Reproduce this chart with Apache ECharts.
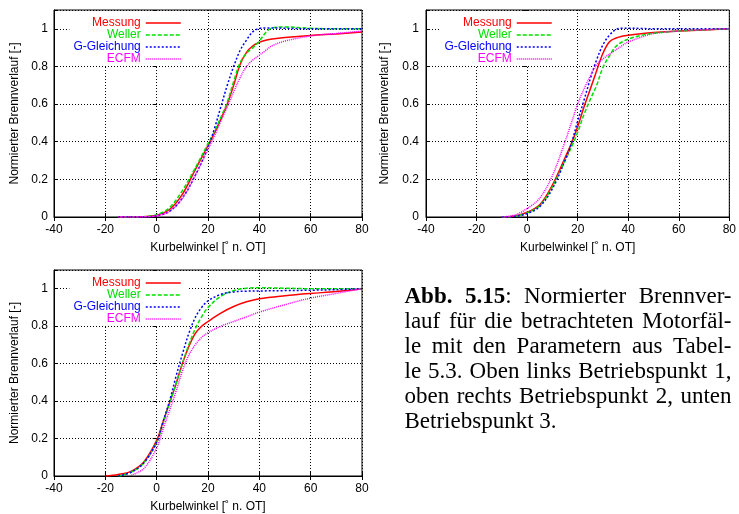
<!DOCTYPE html>
<html>
<head>
<meta charset="utf-8">
<script src="https://cdn.jsdelivr.net/npm/echarts@6/dist/echarts.min.js"></script>
<style>
  html, body { margin: 0; padding: 0; background: #fff; }
  #chart { width: 739px; height: 514px; }
</style>
</head>
<body>
<div id="chart"></div>
<script>
// Kurbelwinkel [° n. OT] sampling for each operating point
const angles1 = [-15, -10, -5, 0, 5, 10, 15, 20, 22.5, 25, 27.5, 30, 32.5, 35, 37.5, 40, 42.5, 45, 50, 60, 70, 80];
const angles2 = [-10, -5, 0, 5, 10, 15, 17.5, 20, 22.5, 25, 27.5, 30, 32.5, 35, 37.5, 40, 45, 50, 60, 70, 80];
const angles3 = [-20, -15, -10, -5, 0, 2.5, 5, 7.5, 10, 12.5, 15, 17.5, 20, 25, 30, 35, 40, 50, 60, 70, 80];

// Betriebspunkt 1
const messung1    = [0, 0, 0.002, 0.01, 0.04, 0.12, 0.25, 0.38, 0.445, 0.52, 0.6, 0.7, 0.81, 0.875, 0.91, 0.928, 0.939, 0.946, 0.954, 0.965, 0.973, 0.983];
const weller1     = [0, 0, 0.002, 0.012, 0.05, 0.14, 0.26, 0.39, 0.455, 0.53, 0.61, 0.72, 0.82, 0.87, 0.9, 0.935, 0.98, 1.005, 1.01, 1.003, 1.0, 1.0];
const gGleichung1 = [0, 0, 0.001, 0.006, 0.03, 0.1, 0.22, 0.37, 0.47, 0.585, 0.7, 0.8, 0.885, 0.94, 0.985, 1.002, 1.005, 1.005, 1.003, 1.0, 1.0, 1.0];
const ecfm1       = [0, 0, 0.001, 0.006, 0.03, 0.1, 0.22, 0.36, 0.43, 0.51, 0.585, 0.665, 0.74, 0.8, 0.835, 0.86, 0.885, 0.91, 0.935, 0.962, 0.975, 0.988];

// Betriebspunkt 2
const messung2    = [0, 0.005, 0.025, 0.065, 0.17, 0.315, 0.39, 0.48, 0.584, 0.68, 0.777, 0.87, 0.93, 0.95, 0.96, 0.966, 0.974, 0.98, 0.988, 0.994, 1.0];
const weller2     = [0, 0.004, 0.022, 0.06, 0.16, 0.3, 0.37, 0.45, 0.545, 0.625, 0.7, 0.795, 0.855, 0.905, 0.93, 0.945, 0.965, 0.977, 0.988, 0.995, 1.0];
const gGleichung2 = [0, 0.003, 0.018, 0.055, 0.15, 0.3, 0.39, 0.51, 0.62, 0.735, 0.835, 0.915, 0.965, 0.995, 1.003, 1.003, 1.002, 1.0, 1.0, 1.0, 1.0];
const ecfm2       = [0, 0.01, 0.045, 0.1, 0.22, 0.4, 0.5, 0.6, 0.68, 0.75, 0.81, 0.84, 0.865, 0.887, 0.91, 0.93, 0.955, 0.975, 0.988, 0.995, 1.0];

// Betriebspunkt 3
const messung3    = [0, 0.008, 0.025, 0.075, 0.19, 0.29, 0.39, 0.49, 0.6, 0.69, 0.76, 0.8, 0.825, 0.87, 0.905, 0.93, 0.947, 0.963, 0.975, 0.985, 1.0];
const weller3     = [null, 0, 0.02, 0.07, 0.18, 0.28, 0.385, 0.49, 0.6, 0.7, 0.785, 0.85, 0.9, 0.96, 0.99, 1.003, 1.005, 1.003, 1.0, 1.0, 1.0];
const gGleichung3 = [null, 0, 0.02, 0.07, 0.18, 0.29, 0.4, 0.53, 0.65, 0.76, 0.845, 0.9, 0.935, 0.97, 0.983, 0.987, 0.988, 0.99, 0.992, 0.995, 1.0];
const ecfm3       = [null, null, 0.004, 0.04, 0.15, 0.25, 0.35, 0.45, 0.56, 0.645, 0.7, 0.74, 0.765, 0.8, 0.825, 0.85, 0.875, 0.915, 0.95, 0.975, 1.0];

const seriesNames = ['Messung', 'Weller', 'G-Gleichung', 'ECFM'];

const captionLines = [
  '*Abb.* *5.15*: Normierter Brennver-',
  'lauf für die betrachteten Motorfäl-',
  'le mit den Parametern aus Tabel-',
  'le 5.3. Oben links Betriebspunkt 1,',
  'oben rechts Betriebspunkt 2, unten',
  'Betriebspunkt 3.'
];

const plots = [
  { angles: angles1, values: [messung1, weller1, gGleichung1, ecfm1] },
  { angles: angles2, values: [messung2, weller2, gGleichung2, ecfm2] },
  { angles: angles3, values: [messung3, weller3, gGleichung3, ecfm3] }
];

// ---- styling / layout ----
const SANS = '"Liberation Sans", Arial, sans-serif';
const SERIF = '"Liberation Serif", "Times New Roman", serif';
const lineStyles = {
  'Messung':     { color: '#ff0000', type: 'solid' },
  'Weller':      { color: '#00e000', type: [4, 2] },
  'G-Gleichung': { color: '#0000ff', type: [2, 2] },
  'ECFM':        { color: '#ff00ff', type: [1, 1] }
};
const grids = [
  { left: 54,  top: 10,  width: 308, height: 207, nameGap: 33, labelMargin: 6, legendRight: 550.5, legendTop: 12 },
  { left: 426, top: 10,  width: 307, height: 207, nameGap: 35, labelMargin: 7, legendRight: 179.5, legendTop: 12 },
  { left: 54,  top: 270, width: 308, height: 206, nameGap: 33, labelMargin: 6, legendRight: 550.5, legendTop: 272 }
];

const dotted = { show: true, lineStyle: { color: '#000', width: 1, type: [1, 2] } };
const tickStyle = { show: true, inside: true, length: 4, lineStyle: { color: '#000', width: 1 } };
const labelFont = { fontFamily: SANS, fontSize: 12, color: '#000' };

const xAxes = [], yAxes = [], series = [], legends = [];
grids.forEach((g, p) => {
  xAxes.push({
    gridIndex: p, type: 'value', position: 'bottom', min: -40, max: 80, interval: 20,
    name: 'Kurbelwinkel [˚ n. OT]', nameLocation: 'middle', nameGap: 25,
    nameTextStyle: labelFont,
    axisLine: { show: true, onZero: false, lineStyle: { color: '#000', width: 1 } },
    axisTick: tickStyle,
    axisLabel: Object.assign({ margin: 7 }, labelFont),
    splitLine: dotted
  });
  yAxes.push({
    gridIndex: p, type: 'value', position: 'left', min: 0, max: 1.1, interval: 0.2,
    name: 'Normierter Brennverlauf [-]', nameLocation: 'middle', nameGap: g.nameGap,
    nameTextStyle: labelFont,
    axisLine: { show: true, onZero: false, lineStyle: { color: '#000', width: 1 } },
    axisTick: tickStyle,
    axisLabel: Object.assign({
      margin: g.labelMargin,
      formatter: v => (v > 1.05 ? '' : String(Math.round(v * 10) / 10))
    }, labelFont),
    splitLine: dotted
  });
});
// mirrored tick marks on the top and right borders
grids.forEach((g, p) => {
  xAxes.push({
    gridIndex: p, type: 'value', position: 'top', min: -40, max: 80, interval: 20,
    axisLine: { show: false }, axisTick: tickStyle, axisLabel: { show: false }, splitLine: { show: false }
  });
  yAxes.push({
    gridIndex: p, type: 'value', position: 'right', min: 0, max: 1.1, interval: 0.2,
    axisLine: { show: false }, axisTick: tickStyle, axisLabel: { show: false }, splitLine: { show: false }
  });
});

plots.forEach((pl, p) => {
  seriesNames.forEach((name, s) => {
    const st = lineStyles[name];
    series.push({
      type: 'line', name, xAxisIndex: p, yAxisIndex: p,
      data: pl.angles.map((a, i) => [a, pl.values[s][i]]),
      symbol: 'none', showSymbol: false,
      smooth: 0.35,
      lineStyle: { color: st.color, width: 1.5, type: st.type },
      itemStyle: { color: st.color },
      z: 2 + s,
      animation: false
    });
  });
  const g = grids[p];
  legends.push({
    orient: 'vertical', align: 'right',
    right: g.legendRight, top: g.legendTop,
    itemWidth: 35, itemHeight: 12, itemGap: 0,
    padding: [5, 7, 0, 4],
    backgroundColor: '#fff',
    selectedMode: false,
    itemStyle: { opacity: 0, borderWidth: 0 },
    textStyle: { fontFamily: SANS, fontSize: 12 },
    data: seriesNames.map(n => ({
      name: n,
      textStyle: { color: lineStyles[n].color },
      lineStyle: { color: lineStyles[n].color, type: lineStyles[n].type, width: 1.5 }
    }))
  });
});

// ---- caption: justified serif text block ----
const CAP_LEFT = 404.5, CAP_RIGHT = 731.5, CAP_FIRST_MID = 297, CAP_LEADING = 25, CAP_SIZE = 23;
const measureCtx = document.createElement('canvas').getContext('2d');
function segWidth(text, bold) {
  measureCtx.font = (bold ? 'bold ' : '') + CAP_SIZE + 'px ' + SERIF;
  return measureCtx.measureText(text).width;
}
function parseWord(word) {
  const parts = word.split('*');
  const segs = [];
  parts.forEach((t, i) => { if (t) segs.push({ text: t, bold: i % 2 === 1 }); });
  segs.forEach(s => { s.w = segWidth(s.text, s.bold); });
  return segs;
}
const captionElements = [];
captionLines.forEach((line, li) => {
  const words = line.split(' ').map(parseWord);
  const natural = words.reduce((acc, w) => acc + w.reduce((a, s) => a + s.w, 0), 0);
  const isLast = li === captionLines.length - 1;
  const gap = isLast ? segWidth(' ', false) : (CAP_RIGHT - CAP_LEFT - natural) / (words.length - 1);
  let x = CAP_LEFT;
  const y = CAP_FIRST_MID + li * CAP_LEADING;
  words.forEach(w => {
    w.forEach(s => {
      captionElements.push({
        type: 'text', x, y, silent: true,
        style: {
          text: s.text, fill: '#000',
          font: (s.bold ? 'bold ' : '') + CAP_SIZE + 'px ' + SERIF,
          align: 'left', verticalAlign: 'middle'
        }
      });
      x += s.w;
    });
    x += gap;
  });
});

const chart = echarts.init(document.getElementById('chart'), null, { renderer: 'canvas' });
chart.setOption({
  animation: false,
  backgroundColor: '#fff',
  grid: grids.map(g => ({
    left: g.left, top: g.top, width: g.width, height: g.height,
    show: true, borderColor: '#000', borderWidth: 1, backgroundColor: 'transparent'
  })),
  xAxis: xAxes,
  yAxis: yAxes,
  legend: legends,
  series,
  graphic: captionElements
});
</script>
</body>
</html>
